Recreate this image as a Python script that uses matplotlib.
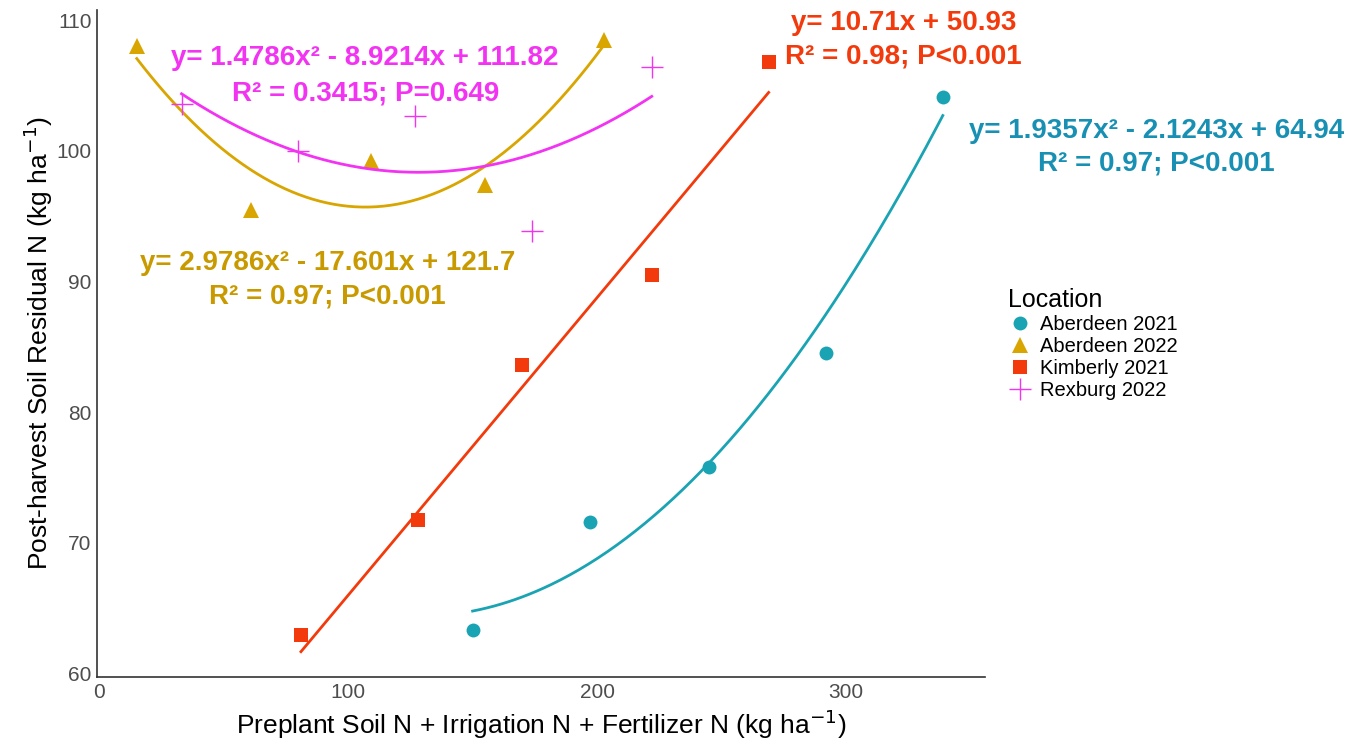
import numpy as np
import matplotlib
matplotlib.use("Agg")
import matplotlib.pyplot as plt

# data
locations = ["Aberdeen 2021", "Aberdeen 2022", "Kimberly 2021", "Rexburg 2022"]
x_ab21 = [150, 197, 245, 292, 339]
y_ab21 = [63.3, 71.6, 75.8, 84.5, 104.1]
x_ab22 = [15, 61, 109, 155, 203]
y_ab22 = [108.0, 95.5, 99.2, 97.4, 108.5]
x_kim21 = [81, 128, 170, 222, 269]
y_kim21 = [62.9, 71.7, 83.6, 90.5, 106.8]
x_rex22 = [33, 80, 127, 174, 222]
y_rex22 = [103.6, 100.0, 102.7, 93.9, 106.4]

# fitted equations (x = treatment 1..5), highest power first
coef_ab21 = [1.9357, -2.1243, 64.94]
coef_ab22 = [2.9786, -17.601, 121.7]
coef_kim21 = [10.71, 50.93]
coef_rex22 = [1.4786, -8.9214, 111.82]

c_teal = "#1aa3b3"
c_gold = "#d9a500"
c_red = "#f23a0c"
c_mag = "#f233f2"

plt.rcParams['font.family'] = ['Liberation Sans', 'DejaVu Sans']

fig = plt.figure(figsize=(13.58, 7.42), dpi=100)
ax = fig.add_axes([0.0714, 0.0876, 0.654, 0.899])


def fit_line(xs, coef):
    xx = np.linspace(xs[0], xs[-1], 200)
    t = 1 + (xx - xs[0]) / (xs[-1] - xs[0]) * (len(xs) - 1)
    return xx, np.polyval(coef, t)


for xs, ys, coef, col, mk, ms, lbl in [
        (x_ab21, y_ab21, coef_ab21, c_teal, "o", 10, locations[0]),
        (x_ab22, y_ab22, coef_ab22, c_gold, "^", 11, locations[1]),
        (x_kim21, y_kim21, coef_kim21, c_red, "s", 9.5, locations[2]),
        (x_rex22, y_rex22, coef_rex22, c_mag, "+", 16, locations[3])]:
    xx, yy = fit_line(xs, coef)
    ax.plot(xx, yy, color=col, lw=2)
    ax.plot(xs, ys, linestyle="none", marker=mk, ms=ms, color=col,
            markeredgewidth=1 if mk == "+" else 0, label=lbl)

tk = dict(fontsize=20, fontweight="bold", ha="center", va="center", clip_on=False)
ax.text(106.8, 107.1, "y= 1.4786x² - 8.9214x + 111.82", color=c_mag, **tk)
ax.text(106.8, 104.4, "R² = 0.3415; P=0.649", color=c_mag, **tk)
ax.text(323.3, 109.8, "y= 10.71x + 50.93", color=c_red, **tk)
ax.text(323.3, 107.2, "R² = 0.98; P<0.001", color=c_red, **tk)
ax.text(424.9, 101.5, "y= 1.9357x² - 2.1243x + 64.94", color="#1890b3", **tk)
ax.text(424.9, 99.0, "R² = 0.97; P<0.001", color="#1890b3", **tk)
ax.text(91.6, 91.45, "y= 2.9786x² - 17.601x + 121.7", color="#c99a00", **tk)
ax.text(91.6, 88.85, "R² = 0.97; P<0.001", color="#c99a00", **tk)

ax.set_xlim(-1, 356)
ax.set_ylim(59.7, 110.8)
ax.set_xticks([0, 100, 200, 300])
ax.set_yticks([60, 70, 80, 90, 100, 110])
ax.tick_params(length=0, labelsize=15, colors="#4d4d4d", pad=4)
for s in ["top", "right"]:
    ax.spines[s].set_visible(False)
for s in ["left", "bottom"]:
    ax.spines[s].set_color("#333333")
    ax.spines[s].set_linewidth(1.2)

ax.set_xlabel("Preplant Soil N + Irrigation N + Fertilizer N (kg ha$^{-1}$)",
              fontsize=19, labelpad=4)
ax.set_ylabel("Post-harvest Soil Residual N (kg ha$^{-1}$)", fontsize=19, labelpad=1)

leg = ax.legend(title="Location", loc="upper left", bbox_to_anchor=(1.005, 0.61),
                frameon=False, fontsize=14.5, title_fontsize=18, labelspacing=0.15,
                handletextpad=0.4, handlelength=1.2, alignment="left")

fig.savefig("out.png", dpi=100)
